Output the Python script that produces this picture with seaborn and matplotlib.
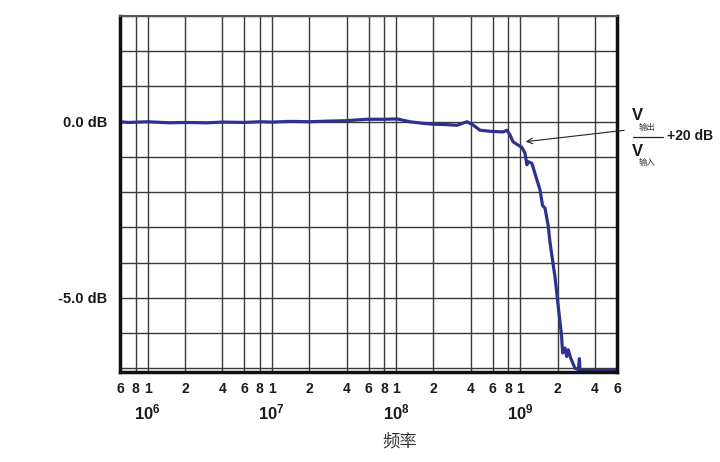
import numpy as np
import matplotlib
matplotlib.use('Agg')
import matplotlib.pyplot as plt
from matplotlib.lines import Line2D
import matplotlib.transforms as mtransforms
import seaborn as sns

# frequency response (Hz, dB)
freq_hz = [6.0e5, 7.0e5, 1.0e6, 1.5e6, 2.0e6, 3.0e6, 4.0e6, 6.0e6, 8.0e6, 1.0e7,
           1.4e7, 2.0e7, 3.0e7, 4.0e7, 5.8e7, 8.0e7, 1.02e8, 1.29e8, 1.6e8, 1.98e8,
           2.5e8, 3.09e8, 3.72e8, 4.2e8, 4.73e8, 5.7e8, 7.26e8, 7.82e8, 8.27e8, 8.74e8,
           1.03e9, 1.09e9, 1.13e9, 1.15e9, 1.24e9, 1.36e9, 1.44e9, 1.51e9, 1.58e9, 1.68e9,
           1.73e9, 1.84e9, 1.90e9, 2.02e9, 2.15e9, 2.19e9, 2.29e9, 2.36e9, 2.43e9, 2.54e9,
           2.64e9, 2.75e9, 2.93e9, 2.99e9, 3.02e9, 3.19e9, 4.0e9, 5.0e9, 6.0e9]
gain_db = [0.0, -0.02, 0.0, -0.03, -0.02, -0.03, -0.01, -0.02, 0.0, -0.01,
           0.01, 0.0, 0.02, 0.03, 0.07, 0.07, 0.08, 0.0, -0.04, -0.07,
           -0.08, -0.1, 0.0, -0.1, -0.24, -0.27, -0.29, -0.24, -0.38, -0.57,
           -0.73, -0.89, -1.22, -1.13, -1.18, -1.65, -1.93, -2.38, -2.45, -2.97,
           -3.4, -4.06, -4.39, -5.24, -6.09, -6.56, -6.42, -6.66, -6.47, -6.70,
           -6.84, -6.99, -7.03, -6.72, -7.03, -7.06, -7.06, -7.06, -7.05]

xtick_pos = [6e5, 8e5, 1e6, 2e6, 4e6, 6e6, 8e6, 1e7, 2e7, 4e7, 6e7, 8e7,
             1e8, 2e8, 4e8, 6e8, 8e8, 1e9, 2e9, 4e9, 6e9]
xtick_txt = ['6', '8', '1', '2', '4', '6', '8', '1', '2', '4', '6', '8',
             '1', '2', '4', '6', '8', '1', '2', '4', '6']
decades = [1e6, 1e7, 1e8, 1e9]
decade_txt = [r'$\mathbf{10^{6}}$', r'$\mathbf{10^{7}}$', r'$\mathbf{10^{8}}$', r'$\mathbf{10^{9}}$']
ytick_pos = [3, 2, 1, 0, -1, -2, -3, -4, -5, -6, -7]
ytick_txt = ['', '', '', '0.0 dB', '', '', '', '', '-5.0 dB', '', '']

sns.set_theme(style='white')
plt.rcParams['font.family'] = ['Liberation Sans', 'DejaVu Sans']
plt.rcParams['mathtext.fontset'] = 'custom'
plt.rcParams['mathtext.rm'] = 'Liberation Sans'
plt.rcParams['mathtext.bf'] = 'Liberation Sans:bold'
cjk = ['Noto Sans CJK SC', 'DejaVu Sans']
ink = '#1a1a1a'

fig = plt.figure(figsize=(7.2, 4.62), dpi=100)
ax = fig.add_axes([120 / 720, 1 - 372 / 462, 497 / 720, 356 / 462])

sns.lineplot(x=freq_hz, y=gain_db, ax=ax, color='#2e3192', linewidth=2.3, sort=False)

ax.set_xscale('log')
ax.set_xlim(6e5, 6e9)
ax.set_ylim(-7.1, 3.0)
ax.set_xticks(xtick_pos)
ax.set_xticklabels(xtick_txt, fontsize=10, fontweight='bold', color=ink)
ax.xaxis.set_minor_locator(matplotlib.ticker.NullLocator())
ax.set_yticks(ytick_pos)
ax.set_yticklabels(ytick_txt, fontsize=10.5, fontweight='bold', color=ink)
ax.tick_params(axis='x', length=0, pad=7)
ax.tick_params(axis='y', length=0, pad=9)
ax.grid(True, color='#3a3a3a', linewidth=1.0)
ax.set_xlabel('')
ax.set_ylabel('')

for side in ['left', 'right', 'bottom']:
    ax.spines[side].set_color('#111111')
    ax.spines[side].set_linewidth(2.5)
ax.spines['top'].set_color('#555555')
ax.spines['top'].set_linewidth(1.5)

trans = mtransforms.blended_transform_factory(ax.transData, ax.transAxes)
for d, t in zip(decades, decade_txt):
    ax.text(d, -0.115, t, transform=trans, ha='center', va='center',
            fontsize=12, color=ink)

fig.text(400 / 720, 1 - 442 / 462, '频率', family=cjk, fontsize=12.5,
         ha='center', va='center', color='#333333')

# annotation: Vout / Vin + 20 dB
ax.annotate('', xy=(1.05e9, -0.575), xycoords='data',
            xytext=(627 / 720, 1 - 130 / 462), textcoords='figure fraction',
            arrowprops=dict(arrowstyle='->', color='#222222', lw=0.8, mutation_scale=10))
fig.text(637 / 720, 1 - 115 / 462, 'V', fontsize=12, fontweight='bold', ha='center', va='center', color=ink)
fig.text(647 / 720, 1 - 127 / 462, '输出', family=cjk, fontsize=6, ha='center', va='center', color='#333333')
fig.add_artist(Line2D([633 / 720, 663 / 720], [1 - 137 / 462] * 2, color='#222222', lw=0.9))
fig.text(637 / 720, 1 - 151 / 462, 'V', fontsize=12, fontweight='bold', ha='center', va='center', color=ink)
fig.text(647 / 720, 1 - 162 / 462, '输入', family=cjk, fontsize=6, ha='center', va='center', color='#333333')
fig.text(667 / 720, 1 - 136 / 462, '+20 dB', fontsize=10, fontweight='bold', ha='left', va='center', color=ink)

fig.savefig('out.png', dpi=100)
